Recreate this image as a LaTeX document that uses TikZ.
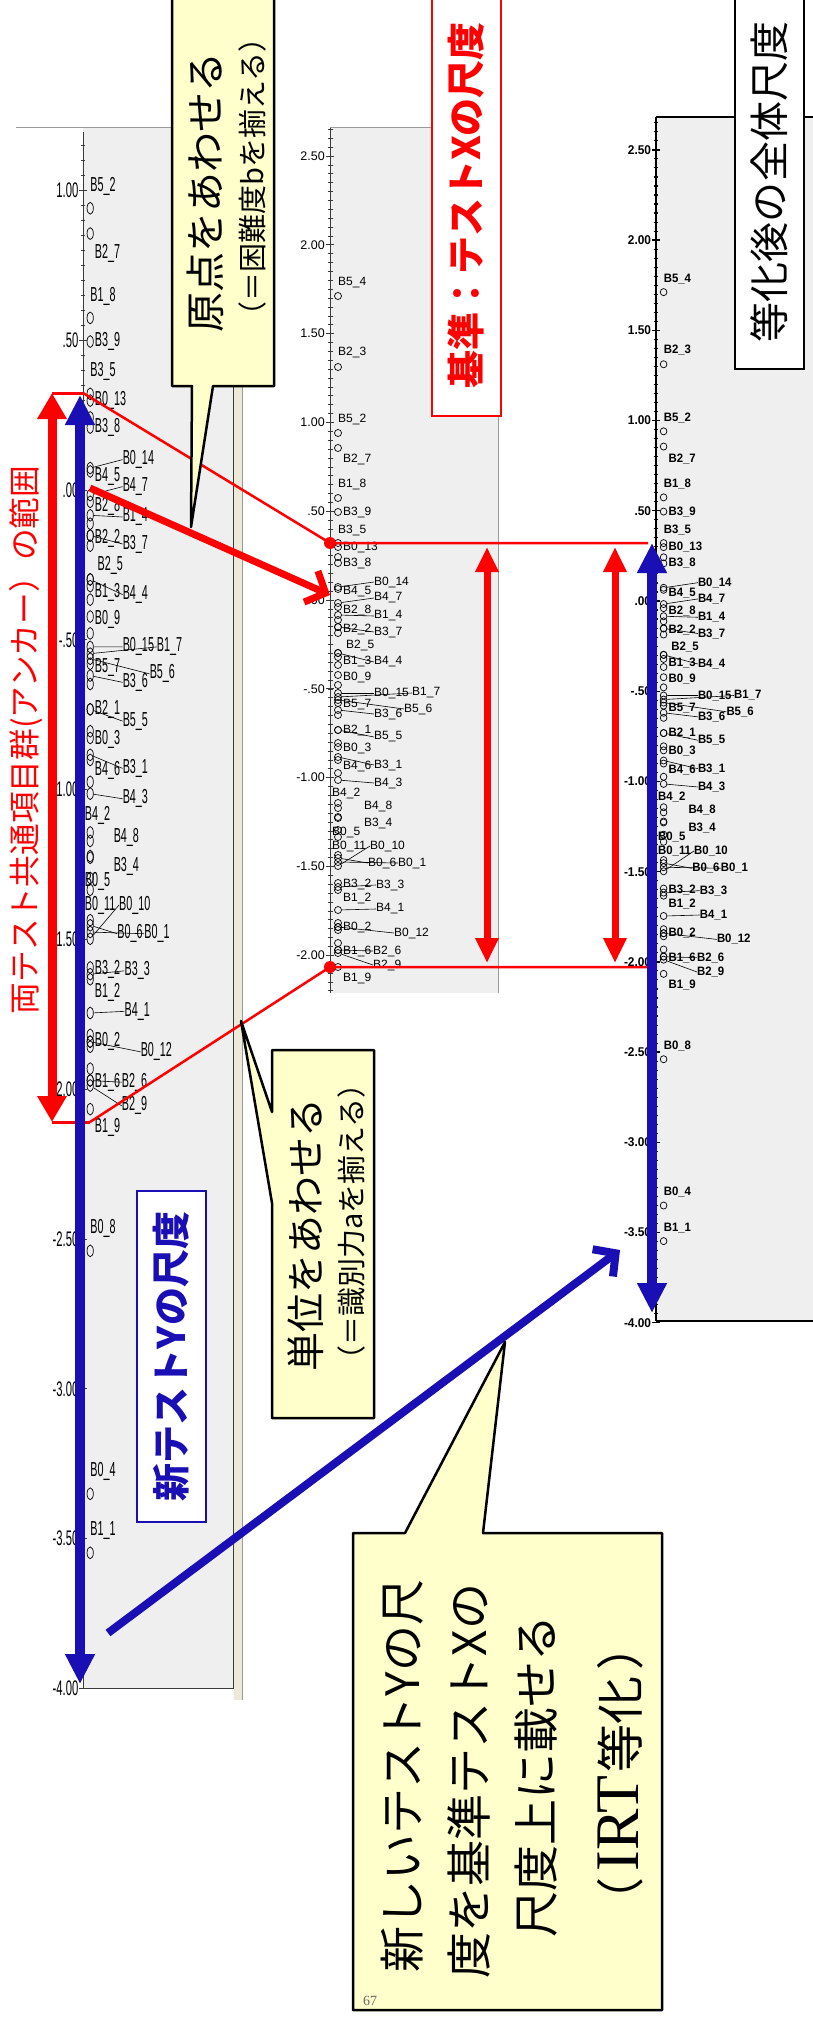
\documentclass[tikz,border=0pt]{standalone}
\usepackage{fontspec}
\setmainfont{Liberation Sans}
\newfontfamily\jpfont{Noto Sans CJK JP}
\newfontfamily\irtfont{Liberation Serif}
\usetikzlibrary{arrows.meta}
\definecolor{panelgray}{HTML}{EFEFEF}
\definecolor{framegray}{HTML}{9A9A9A}
\definecolor{stripcream}{HTML}{ECE9D8}
\definecolor{axisgray}{HTML}{3A3A3A}
\definecolor{anchorred}{HTML}{FF0000}
\definecolor{scaleblue}{HTML}{1A0FB4}
\definecolor{noteyellow}{HTML}{FFFFCC}

\newcommand{\panelfont}{\fontsize{12}{12}\selectfont}
\newcommand{\tickfont}{\fontsize{12.5}{12.5}\selectfont}
% items: circle y / label x / label y / text / leader line
\newcommand{\scaleitems}{-304/8/-317/B5\_4/0, -233/8/-247/B2\_3/0,
  -167/8/-180/B5\_2/0, -152/13/-140/B2\_7/0, -102/8/-115/B1\_8/0,
  -88/13/-88/B3\_9/0, -57/8/-70/B3\_5/0, -53/13/-53/B0\_13/0,
  -37/13/-37/B3\_8/0, -13/44/-18/B0\_14/1, -11/13/-8/B4\_5/0,
  3/44/-2/B4\_7/1, 7/13/10/B2\_8/0, 15/44/16/B1\_4/1, 27/13/29/B2\_2/0,
  27/44/32/B3\_7/1, 53/16/45/B2\_5/0, 53/44/62/B4\_4/1, 57/13/61/B1\_3/0,
  75/13/77/B0\_9/0, 93/44/93/B0\_15/1, 97/82/93/B1\_7/1, 100/74/109/B5\_6/1,
  103/13/105/B5\_7/0, 110/44/114/B3\_6/1, 130/13/130/B2\_1/0,
  130/44/137/B5\_5/1, 147/13/148/B0\_3/0, 157/44/165/B3\_1/1,
  160/13/166/B4\_6/0, 180/44/183/B4\_3/1, 203/2/193/B4\_2/0,
  208/34/206/B4\_8/0, 218/34/223/B3\_4/0, 230/2/232/B0\_5/0,
  255/2/246/B0\_11/0, 266/40/246/B0\_10/1, 258/38/263/B0\_6/1,
  262/68/263/B0\_1/1, 283/13/284/B3\_2/0, 287/46/285/B3\_3/1,
  290/13/298/B1\_2/0, 310/46/309/B4\_1/1, 327/13/327/B0\_2/0,
  327/64/333/B0\_12/1, 350/13/351/B1\_6/0, 350/43/351/B2\_6/1,
  353/43/365/B2\_9/1, 367/13/378/B1\_9/0, 451/8/438/B0\_8/0,
  595/8/582/B0\_4/0, 630/8/617/B1\_1/0}
\newcommand{\bareitems}{-43,20,33,65,85,115,143,173,217,237,323,330,343}

% one logit scale: #1 top, #2 bottom, #3 tick labels, #4 name prefix
\newcommand{\drawscale}[4]{%
  \draw[axisline] (0,#1) -- (0,#2);
  \begin{scope}
    \clip (-8,#1) rectangle (8,#2);
    \foreach \k in {-54,...,80}
      \draw[minortick] (-2.5,{8.88*\k}) -- (2.5,{8.88*\k});
  \end{scope}
  \foreach \cy [count=\i] in \bareitems {
    \ifnum\cy<#1 \else\ifnum\cy>#2 \else
      \node[itemdot] (#4b\i) at (8,\cy) {};
    \fi\fi
  }
  \foreach \cy/\lx/\ly/\txt/\ld [count=\i] in \scaleitems {
    \ifnum\cy<#1 \else\ifnum\cy>#2 \else
      \node[itemdot] (#4c\i) at (8,\cy) {};
      \node[itemlabel] (#4l\i) at (\lx,\ly) {\txt};
      \ifnum\ld=1 \draw[leader] (#4c\i) -- (#4l\i.west); \fi
    \fi\fi
  }
  \foreach \v/\t [count=\i] in {#3} {
    \draw[majortick] (-4,{-177.6*(\v)}) -- (4,{-177.6*(\v)});
    \node[ticklabel] (#4t\i) at (-5,{-177.6*(\v)}) {\t};
  }
}

\tikzset{
  itemdot/.style={circle, draw=black, line width=0.7pt, inner sep=0pt, minimum size=7pt},
  itemlabel/.style={anchor=west, inner sep=0pt, font=\panelfont},
  ticklabel/.style={anchor=east, inner sep=0pt, font=\tickfont},
  leader/.style={draw=black, line width=0.6pt},
  axisline/.style={draw=axisgray, line width=0.9pt},
  minortick/.style={draw=axisgray, line width=0.6pt},
  majortick/.style={draw=axisgray, line width=0.9pt},
  titlebox/.style={rotate=90, fill=white, line width=2.5pt, inner sep=0pt, minimum height=69pt},
  notebox/.style={fill=noteyellow, draw=black, line width=2.5pt, line join=round},
  notemain/.style={rotate=90, anchor=west, inner sep=0pt, font=\jpfont\fontsize{40}{40}\selectfont},
  notesub/.style={rotate=90, anchor=west, inner sep=0pt, font=\jpfont\fontsize{29}{29}\selectfont},
  bigtext/.style={rotate=90, inner sep=0pt, font=\jpfont\fontsize{46}{46}\selectfont},
  redline/.style={draw=anchorred, line width=2.5pt},
  redbar/.style={draw=anchorred, line width=#1, >={Triangle[length=26pt,width=28pt]}, <->},
  bluebar/.style={draw=scaleblue, line width=10pt, >={Triangle[length=30pt,width=28pt]}, <->},
  pusharrow/.style={line width=7pt, -{Straight Barb[length=16pt,width=34pt]}}
}

\begin{document}
\begin{tikzpicture}[x=1pt,y=-1pt]
\useasboundingbox (0,0) rectangle (813,2017);
\clip (0,0) rectangle (813,2017);
\fill[white] (0,0) rectangle (813,2017);

% panel frames
\fill[panelgray] (83,128) rectangle (233,1688);
\draw[framegray, line width=1pt] (16,128) -- (233,128);
\draw[axisgray, line width=1pt] (233,128) -- (233,1688) -- (83,1688);
\fill[stripcream] (234,128) rectangle (242,1700);
\draw[framegray, line width=1pt] (242,128) -- (242,1700);
\fill[panelgray] (330,128) rectangle (498,993);
\draw[framegray, line width=1pt] (330,128) -- (498,128) -- (498,993);
\fill[panelgray] (656,117) rectangle (813,1321);
\draw[black, line width=1.4pt] (656,117) -- (813,117);
\draw[black, line width=1.4pt] (656,1321) -- (813,1321);

% new test Y
\begin{scope}[shift={(83,490)}, xscale=0.9, yscale=1.687, transform shape]
  \drawscale{-212}{710}{1/1.00, 0.5/.50, 0/.00, -0.5/-.50, -1/-1.00, -1.5/-1.50,
    -2/-2.00, -2.5/-2.50, -3/-3.00, -3.5/-3.50, -4/-4.00}{lft}
\end{scope}
% reference test X
\begin{scope}[shift={(330,600)}]
  \drawscale{-472}{393}{2.5/2.50, 2/2.00, 1.5/1.50, 1/1.00, 0.5/.50, 0/.00,
    -0.5/-.50, -1/-1.00, -1.5/-1.50, -2/-2.00}{mid}
\end{scope}
% equated scale
\begin{scope}[shift={(656,601)}, xscale=0.95, yscale=1.016, transform shape]
  \renewcommand{\panelfont}{\bfseries\fontsize{12}{12}\selectfont}
  \renewcommand{\tickfont}{\bfseries\fontsize{12.5}{12.5}\selectfont}
  \tikzset{axisline/.style={draw=black, line width=1.4pt},
    minortick/.style={draw=black, line width=1.1pt},
    majortick/.style={draw=black, line width=1.4pt}}
  \drawscale{-476}{709}{2.5/2.50, 2/2.00, 1.5/1.50, 1/1.00, 0.5/.50, 0/.00,
    -0.5/-.50, -1/-1.00, -1.5/-1.50, -2/-2.00, -2.5/-2.50, -3/-3.00,
    -3.5/-3.50, -4/-4.00}{rgt}
\end{scope}

% anchor range
\coordinate (lbartop) at (52,393);  \coordinate (lbarbot) at (52,1122);
\coordinate (ltop) at (83,393);     \coordinate (lbot) at (90,1122);
\coordinate (mtop) at (330,543);    \coordinate (mbot) at (330,967);
\coordinate (rtop) at (648,543);    \coordinate (rbot) at (648,967);
\draw[redline, line width=3pt] (lbartop) -- (ltop);
\draw[redline, line width=3pt] (lbarbot) -- (lbot);
\draw[redline] (ltop) -- (mtop) -- (rtop);
\draw[redline] (lbot) -- (mbot) -- (rbot);
\fill[anchorred] (mtop) circle[radius=6pt];
\fill[anchorred] (mbot) circle[radius=6pt];
\draw[redbar=9pt] (lbarbot) -- (lbartop);
\draw[redbar=7pt, >={Triangle[length=25pt,width=22pt]}] (487,963) -- (487,547);
\draw[redbar=7pt, >={Triangle[length=25pt,width=22pt]}] (615,963) -- (615,547);
\node[rotate=90, inner sep=0pt, text=anchorred, font=\jpfont\fontsize{31.7}{31.7}\selectfont]
  (anchorlabel) at (26,740) {両テスト共通項目群(アンカー）の範囲};

% scale ranges
\draw[bluebar] (80,1684) -- (80,395);
\draw[bluebar] (652,1313) -- (652,543);

% origin shift and equating arrows
\coordinate (zeroY) at (90,488);   \coordinate (zeroX) at (330,595);
\draw[pusharrow, draw=anchorred] (zeroY) -- (zeroX);
\coordinate (equfrom) at (108,1633); \coordinate (equto) at (620,1250);
\draw[pusharrow, draw=scaleblue, line width=8pt] (equfrom) -- (equto);

% scale titles
\node[titlebox, draw=anchorred, minimum width=421pt, text=anchorred,
  font=\jpfont\bfseries\fontsize{38}{38}\selectfont] (reftitle) at (466.5,205.5) {基準：テストXの尺度};
\node[titlebox, draw=black, minimum width=374pt,
  font=\jpfont\fontsize{40}{40}\selectfont] (eqtitle) at (769.5,182) {等化後の全体尺度};
\node[titlebox, draw=scaleblue, minimum width=331pt, text=scaleblue,
  font=\jpfont\bfseries\fontsize{38}{38}\selectfont] (newtitle) at (171.5,1356.5) {新テストYの尺度};

% callouts
\draw[notebox] (172,-5) -- (274,-5) -- (274,386) -- (213,386) -- (191,527)
  -- (192,386) -- (172,386) -- cycle;
\node[notemain] (originmain) at (205,333) {原点をあわせる};
\node[notesub] (originsub) at (252,331) {（＝困難度bを揃える）};

\draw[notebox] (272,1050) -- (374,1050) -- (374,1418) -- (272,1418) -- (272,1203)
  -- (241,1021) -- (272,1112) -- cycle;
\node[notemain, font=\jpfont\fontsize{39}{39}\selectfont] (unitmain) at (306,1372) {単位をあわせる};
\node[notesub] (unitsub) at (351,1375) {（＝識別力aを揃える）};

\draw[notebox] (353,1533) -- (405,1533) -- (505,1342) -- (483,1533) -- (662,1533)
  -- (662,2010) -- (353,2010) -- cycle;
\node[bigtext] (eqline1) at (402,1776) {新しいテストYの尺};
\node[bigtext] (eqline2) at (469,1781) {度を基準テストXの};
\node[bigtext] (eqline3) at (536,1776) {尺度上に載せる};
\node[bigtext, font=\jpfont\fontsize{48}{48}\selectfont] (eqline4) at (620,1774)
  {（\hspace{6pt}{\irtfont\fontsize{62}{62}\selectfont IRT}\hspace{3pt}等化\hspace{6pt}）};
\node[inner sep=0pt, text=black!60, font=\irtfont\fontsize{14}{14}\selectfont] (pageno) at (370,2001) {67};
\end{tikzpicture}
\end{document}
